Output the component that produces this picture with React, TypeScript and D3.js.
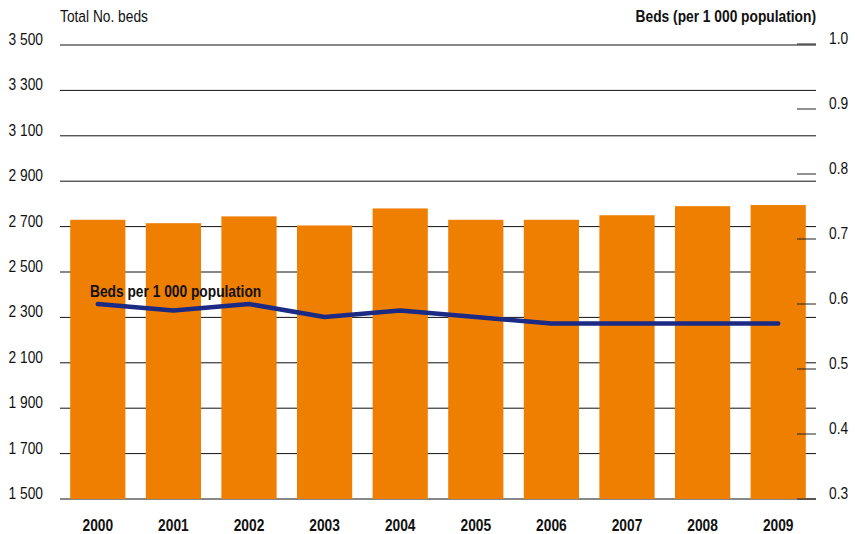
import React, { useEffect, useRef } from 'react';
import * as d3 from 'd3';

const years = ['2000', '2001', '2002', '2003', '2004', '2005', '2006', '2007', '2008', '2009'];
const totalBeds = [2730, 2715, 2745, 2705, 2780, 2730, 2730, 2750, 2790, 2795];
const bedsPer1000 = [0.6, 0.59, 0.6, 0.58, 0.59, 0.58, 0.57, 0.57, 0.57, 0.57];
const leftTicks = [1500, 1700, 1900, 2100, 2300, 2500, 2700, 2900, 3100, 3300, 3500];
const rightTicks = [0.3, 0.4, 0.5, 0.6, 0.7, 0.8, 0.9, 1.0];

// no narrow font available, so squeeze Liberation Sans horizontally
const FONT = '"Liberation Sans", Arial, sans-serif';
const SQUEEZE = 0.81;
const FS = 17;

const App: React.FC = () => {
  const svgRef = useRef<SVGSVGElement>(null);

  useEffect(() => {
    if (!svgRef.current) return;
    d3.select(svgRef.current).selectAll('*').remove();

    const width = 855;
    const height = 534;
    const left = 60;
    const right = 816;

    const svg = d3.select(svgRef.current)
      .attr('width', width)
      .attr('height', height)
      .style('font-family', FONT);

    const place = (px: number, py: number) => `translate(${px},${py}) scale(${SQUEEZE},1)`;

    const x = d3.scaleBand<string>()
      .domain(years)
      .range([left, right])
      .paddingInner(0.27)
      .paddingOuter(0.135);

    const yLeft = d3.scaleLinear().domain([1500, 3500]).range([499, 45]);
    const yRight = d3.scaleLinear().domain([0.3, 1.0]).range([499, 44]);

    // gridlines (left axis)
    svg.append('g')
      .selectAll('line')
      .data(leftTicks)
      .enter()
      .append('line')
      .attr('x1', left)
      .attr('x2', right)
      .attr('y1', d => yLeft(d))
      .attr('y2', d => yLeft(d))
      .attr('stroke', '#111')
      .attr('stroke-width', 1);

    // left tick labels
    svg.append('g')
      .selectAll('text')
      .data(leftTicks)
      .enter()
      .append('text')
      .attr('transform', d => place(43, yLeft(d)))
      .attr('text-anchor', 'end')
      .attr('font-size', FS)
      .attr('fill', '#111')
      .text(d => d3.format(',')(d).replace(',', ' '));

    // bars
    svg.append('g')
      .selectAll('rect')
      .data(years)
      .enter()
      .append('rect')
      .attr('x', d => x(d)!)
      .attr('width', x.bandwidth())
      .attr('y', (_, i) => yLeft(totalBeds[i]))
      .attr('height', (_, i) => yLeft(1500) - yLeft(totalBeds[i]))
      .attr('fill', '#ee7f00');

    // right axis ticks
    svg.append('g')
      .selectAll('line')
      .data(rightTicks)
      .enter()
      .append('line')
      .attr('x1', 797)
      .attr('x2', right)
      .attr('y1', d => yRight(d))
      .attr('y2', d => yRight(d))
      .attr('stroke', '#222')
      .attr('stroke-width', 1);

    svg.append('g')
      .selectAll('text')
      .data(rightTicks)
      .enter()
      .append('text')
      .attr('transform', d => place(829, yRight(d)))
      .attr('font-size', FS)
      .attr('fill', '#111')
      .text(d => d3.format('.1f')(d));

    // line
    const line = d3.line<number>()
      .x((_, i) => x(years[i])! + x.bandwidth() / 2)
      .y(d => yRight(d));

    svg.append('path')
      .datum(bedsPer1000)
      .attr('d', line)
      .attr('fill', 'none')
      .attr('stroke', '#1b2a84')
      .attr('stroke-width', 4.5)
      .attr('stroke-linecap', 'round')
      .attr('stroke-linejoin', 'round');

    svg.append('text')
      .attr('transform', place(90, 297))
      .attr('font-size', FS)
      .attr('font-weight', 'bold')
      .attr('fill', '#111')
      .text('Beds per 1 000 population');

    // year labels
    svg.append('g')
      .selectAll('text')
      .data(years)
      .enter()
      .append('text')
      .attr('transform', d => place(x(d)! + x.bandwidth() / 2, 531))
      .attr('text-anchor', 'middle')
      .attr('font-size', FS)
      .attr('font-weight', 'bold')
      .attr('fill', '#111')
      .text(d => d);

    // axis titles
    svg.append('text')
      .attr('transform', place(60, 22))
      .attr('font-size', FS)
      .attr('fill', '#111')
      .text('Total No. beds');

    svg.append('text')
      .attr('transform', place(right, 22))
      .attr('text-anchor', 'end')
      .attr('font-size', FS)
      .attr('font-weight', 'bold')
      .attr('fill', '#111')
      .text('Beds (per 1 000 population)');
  }, []);

  return (
    <svg ref={svgRef} style={{ position: 'absolute', left: 0, top: 0, background: '#fff' }}></svg>
  );
};

export default App;
